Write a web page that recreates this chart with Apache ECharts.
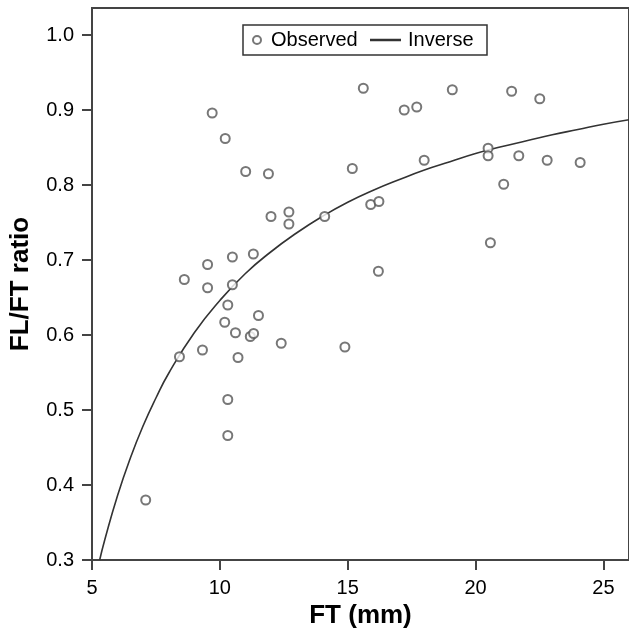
<!DOCTYPE html>
<html>
<head>
<meta charset="utf-8">
<script src="https://cdn.jsdelivr.net/npm/echarts@6/dist/echarts.min.js"></script>
<style>
html,body{margin:0;padding:0;background:#fff;}
#chart{width:629px;height:639px;}
</style>
</head>
<body>
<div id="chart"></div>
<script>
// Observed points (FT mm, FL/FT ratio)
const obsFT = [7.10, 8.42, 8.61, 9.32, 9.52, 9.52, 9.70, 10.19, 10.21, 10.31, 10.31, 10.31,
  10.49, 10.49, 10.61, 10.71, 11.01, 11.19, 11.31, 11.32, 11.51, 11.90, 12.00, 12.40,
  12.70, 12.70, 14.10, 14.89, 15.18, 15.61, 15.90, 16.20, 16.22, 17.21, 17.70, 17.99,
  19.09, 20.49, 20.49, 20.58, 21.10, 21.41, 21.69, 22.51, 22.80, 24.09];
const obsRatio = [0.380, 0.571, 0.674, 0.580, 0.694, 0.663, 0.896, 0.617, 0.862, 0.640, 0.514, 0.466,
  0.704, 0.667, 0.603, 0.570, 0.818, 0.598, 0.708, 0.602, 0.626, 0.815, 0.758, 0.589,
  0.764, 0.748, 0.758, 0.584, 0.822, 0.929, 0.774, 0.685, 0.778, 0.900, 0.904, 0.833,
  0.927, 0.849, 0.839, 0.723, 0.801, 0.925, 0.839, 0.915, 0.833, 0.830];

// Fitted inverse curve
const curveFT = [5.3, 5.5, 6, 6.5, 7, 7.5, 8, 9, 10, 11, 12, 13, 14, 15, 16, 17, 18, 19, 20, 21, 22, 23, 24, 25, 26];
const curveRatio = [0.300, 0.327, 0.386, 0.436, 0.479, 0.516, 0.549, 0.603, 0.646, 0.682, 0.711, 0.736,
  0.758, 0.777, 0.793, 0.807, 0.820, 0.831, 0.842, 0.851, 0.859, 0.867, 0.874, 0.881, 0.887];

const xTicks = [5, 10, 15, 20, 25];
const yTicks = [0.3, 0.4, 0.5, 0.6, 0.7, 0.8, 0.9, 1.0];

const seriesNames = ['Observed', 'Inverse'];
const xTitle = 'FT (mm)';
const yTitle = 'FL/FT ratio';

const FONT = "'Liberation Sans', Arial, Helvetica, sans-serif";
const AXIS_COLOR = '#444';

const chart = echarts.init(document.getElementById('chart'), null, {renderer: 'canvas'});

const scatterData = obsFT.map((x, i) => [x, obsRatio[i]]);
const curveData = curveFT.map((x, i) => [x, curveRatio[i]]);

const axisCommon = {
  type: 'value',
  axisLine: {show: true, onZero: false, lineStyle: {color: AXIS_COLOR, width: 2}},
  axisTick: {show: true, inside: false, length: 10, lineStyle: {color: AXIS_COLOR, width: 2}},
  splitLine: {show: false},
  nameLocation: 'middle',
  nameTextStyle: {fontFamily: FONT, fontSize: 26, fontWeight: 'bold', color: '#000'}
};

chart.setOption({
  animation: false,
  backgroundColor: '#fff',
  grid: {
    left: 92, top: 8, width: 539, height: 552,
    show: true, borderColor: AXIS_COLOR, borderWidth: 2, backgroundColor: 'transparent'
  },
  graphic: [{
    type: 'rect',
    shape: {x: 243, y: 25, width: 244, height: 30},
    style: {fill: 'none', stroke: '#333', lineWidth: 1.5},
    z: 10
  }],
  legend: [{
    data: [seriesNames[0]],
    left: 252, top: 30, padding: 0,
    itemWidth: 8, itemHeight: 8,
    textStyle: {fontFamily: FONT, fontSize: 20, color: '#000', padding: [0, 0, 0, 5]}
  }, {
    data: [{name: seriesNames[1], icon: 'rect', itemStyle: {color: '#333'}}],
    left: 370, top: 30, padding: 0,
    itemWidth: 31, itemHeight: 2.5,
    textStyle: {fontFamily: FONT, fontSize: 20, color: '#000', padding: [0, 0, 0, 2]}
  }],
  xAxis: Object.assign({}, axisCommon, {
    min: 5, max: 26, interval: 5,
    name: xTitle, nameGap: 40,
    axisTick: Object.assign({}, axisCommon.axisTick, {customValues: xTicks}),
    axisLabel: {fontFamily: FONT, fontSize: 20, color: '#000', margin: 18, customValues: xTicks}
  }),
  yAxis: Object.assign({}, axisCommon, {
    min: 0.3, max: 1.036, interval: 0.1,
    name: yTitle, nameGap: 58,
    axisTick: Object.assign({}, axisCommon.axisTick, {customValues: yTicks}),
    axisLabel: {fontFamily: FONT, fontSize: 20, color: '#000', margin: 18, customValues: yTicks,
      formatter: v => Number(v).toFixed(1)}
  }),
  series: [{
    name: seriesNames[0],
    type: 'scatter',
    data: scatterData,
    symbol: 'emptyCircle',
    symbolSize: 9,
    itemStyle: {color: '#555', borderColor: '#555', borderWidth: 1.6},
    z: 3
  }, {
    name: seriesNames[1],
    type: 'line',
    data: curveData,
    smooth: true,
    symbol: 'none',
    showSymbol: false,
    clip: true,
    lineStyle: {color: '#333', width: 1.6},
    itemStyle: {color: '#333'},
    z: 2
  }]
});
</script>
</body>
</html>
